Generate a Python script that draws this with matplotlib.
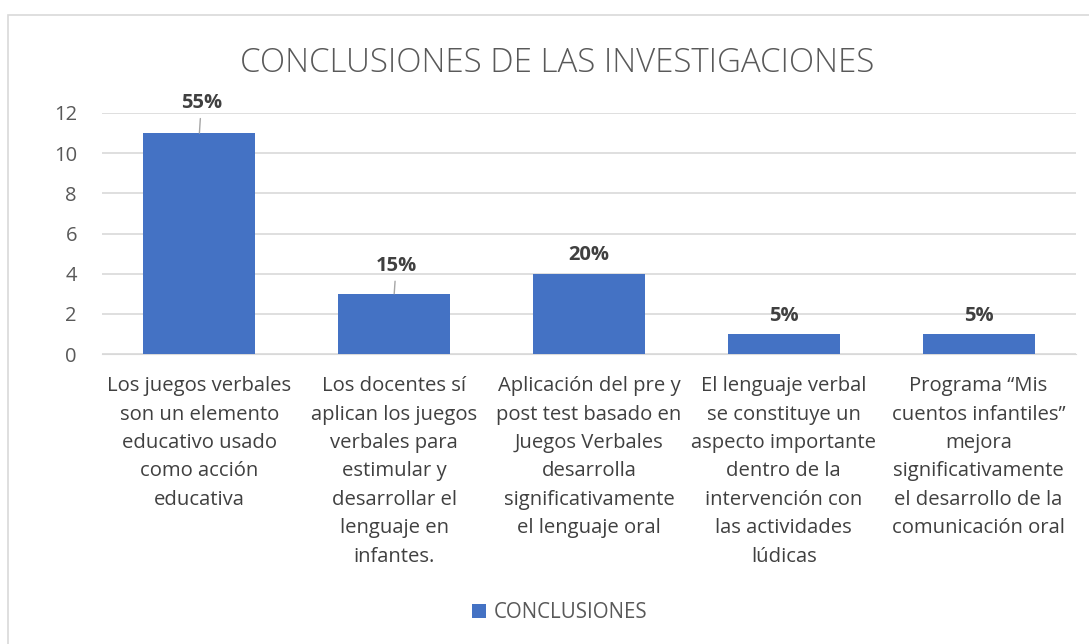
import matplotlib
matplotlib.use("Agg")
import matplotlib.pyplot as plt
from matplotlib.patches import Rectangle

categories = [
    "Los juegos verbales\nson un elemento\neducativo usado\ncomo acción\neducativa",
    "Los docentes sí\naplican los juegos\nverbales para\nestimular y\ndesarrollar el\nlenguaje en\ninfantes.",
    "Aplicación del pre y\npost test basado en\nJuegos Verbales\ndesarrolla\nsignificativamente\nel lenguaje oral",
    "El lenguaje verbal\nse constituye un\naspecto importante\ndentro de la\nintervención con\nlas actividades\nlúdicas",
    "Programa “Mis\ncuentos infantiles”\nmejora\nsignificativamente\nel desarrollo de la\ncomunicación oral",
]
values = [11, 3, 4, 1, 1]
pct_labels = ["55%", "15%", "20%", "5%", "5%"]
yticks = [0, 2, 4, 6, 8, 10, 12]
series_name = "CONCLUSIONES"
title = "CONCLUSIONES DE LAS INVESTIGACIONES"

W, H = 1089, 644
fig = plt.figure(figsize=(W / 100, H / 100), dpi=100)
plt.rcParams['font.family'] = ['Open Sans', 'DejaVu Sans']

# chart border
fig.patches.append(Rectangle((8 / W, -0.1), 1.2, 1 - 15 / H + 0.1, transform=fig.transFigure,
                             fill=False, edgecolor='#d9d9d9', linewidth=1.2))

ax = fig.add_axes([102 / W, 1 - 354 / H, (1076 - 102) / W, (354 - 113) / H])
x = list(range(len(values)))
bar_color = '#4472c4'
bars = ax.bar(x, values, width=0.575, color=bar_color, zorder=3, label=series_name)
ax.set_xlim(-0.5, len(values) - 0.5)
ax.set_ylim(0, 12)
ax.set_yticks(yticks)
ax.set_yticklabels([str(t) for t in yticks], fontsize=14.5, color='#595959')
ax.yaxis.grid(True, color='#d9d9d9', linewidth=1.2, zorder=0)
ax.set_axisbelow(True)
for s in ax.spines.values():
    s.set_visible(False)
ax.spines['bottom'].set_visible(True)
ax.spines['bottom'].set_color('#d9d9d9')
ax.tick_params(axis='both', length=0)
ax.tick_params(axis='y', pad=18)
ax.set_xticks(x)
ax.set_xticklabels(categories, fontsize=14.6, color='#404040', linespacing=1.56, va='top')
ax.tick_params(axis='x', pad=16)

# data labels (some lifted with leader lines)
lift = [1.0, 0.9, 0, 0, 0]
for xi, v, lab, lf in zip(x, values, pct_labels, lift):
    if lf > 0:
        ax.annotate(lab, xy=(xi, v), xytext=(xi + 0.01, v + lf), ha='center', va='bottom',
                    fontsize=14.5, fontweight='bold', color='#404040',
                    arrowprops=dict(arrowstyle='-', color='#a6a6a6', lw=1, shrinkA=2, shrinkB=0),
                    annotation_clip=False)
    else:
        ax.annotate(lab, xy=(xi, v), xytext=(0, 6), textcoords='offset points',
                    ha='center', va='bottom', fontsize=14.5, fontweight='bold', color='#404040')

fig.text(557 / W, 1 - 63 / H, title, ha='center', va='center', fontsize=23.8, color='#595959',
         fontweight='light')

leg = fig.legend(handles=[bars], labels=[series_name], loc='center', bbox_to_anchor=(560 / W, 1 - 613 / H),
                 frameon=False, fontsize=14.8, handlelength=0.65, handleheight=0.65, handletextpad=0.4)
for t in leg.get_texts():
    t.set_color('#595959')

fig.savefig("out.png", dpi=100, facecolor='white')
